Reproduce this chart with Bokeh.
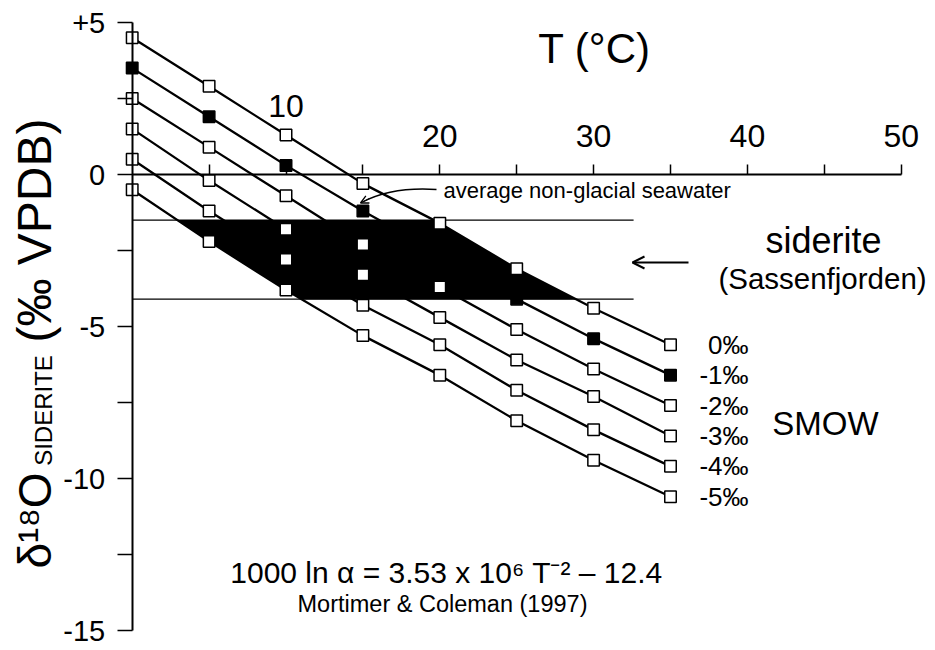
import numpy as np
from bokeh.plotting import figure
from bokeh.models import (Range1d, LinearAxis, FixedTicker, CustomJSTickFormatter,
                          Label, Arrow, OpenHead)
from bokeh.embed import file_html
from bokeh.resources import INLINE

# ---------------- data ----------------
temps = [0, 5, 10, 15, 20, 25, 30, 35]                      # T (deg C)
water_labels = ["0‰", "-1‰", "-2‰", "-3‰", "-4‰", "-5‰"]   # water d18O (SMOW)
sid_w0 = [4.5, 2.9, 1.3, -0.3, -1.6, -3.1, -4.4, -5.6]
sid_w1 = [3.5, 1.9, 0.3, -1.2, -2.6, -4.1, -5.4, -6.6]
sid_w2 = [2.5, 0.9, -0.7, -2.3, -3.7, -5.1, -6.4, -7.6]
sid_w3 = [1.5, -0.2, -1.8, -3.3, -4.7, -6.1, -7.3, -8.6]
sid_w4 = [0.5, -1.2, -2.8, -4.3, -5.6, -7.1, -8.4, -9.6]
sid_w5 = [-0.5, -2.2, -3.8, -5.3, -6.6, -8.1, -9.4, -10.6]
filled_series = [False, True, False, False, False, False]

siderite_top = -1.5          # Sassenfjorden siderite range (per mil VPDB)
siderite_bottom = -4.1
siderite_T_extent = [0, 32.6]

x_ticks = [10, 20, 30, 40, 50]
x_minor_ticks = [5, 15, 25, 35, 45]
y_ticks = [-15, -10, -5, 0, 5]
y_minor_ticks = [-12.5, -7.5, -2.5, 2.5]

series = [sid_w0, sid_w1, sid_w2, sid_w3, sid_w4, sid_w5]

# ---------------- layout ----------------
FONT = "Liberation Sans"
W, H = 935, 650
KX, KY = 15.38, 30.4                 # px per deg C, px per per-mil
X0 = -131.7 / KX
X1 = X0 + W / KX
Y1 = 5 + 22 / KY
Y0 = Y1 - H / KY


def dx(px):
    return X0 + px / KX


def dy(py):
    return Y1 - py / KY


p = figure(width=W, height=H, x_range=Range1d(X0, X1), y_range=Range1d(Y0, Y1),
           toolbar_location=None, output_backend="svg",
           x_axis_location=None, y_axis_location=None, min_border=0)
p.outline_line_color = None
p.grid.visible = False
p.background_fill_color = "white"
p.border_fill_color = "white"

# axes
yaxis = LinearAxis(fixed_location=0, bounds=(-15, 5),
                   ticker=FixedTicker(ticks=y_ticks, minor_ticks=y_minor_ticks),
                   formatter=CustomJSTickFormatter(code="return tick > 0 ? '+' + tick : String(tick);"),
                   major_tick_out=15, major_tick_in=0, minor_tick_out=15, minor_tick_in=0,
                   axis_line_width=2, major_tick_line_width=1.5, minor_tick_line_width=1.5,
                   major_label_text_font=FONT, major_label_text_font_size="29px",
                   major_label_standoff=12, major_label_text_color="black")
p.add_layout(yaxis, "left")

xaxis = LinearAxis(fixed_location=0, bounds=(0, 50),
                   ticker=FixedTicker(ticks=x_ticks, minor_ticks=x_minor_ticks),
                   formatter=CustomJSTickFormatter(code="return tick == 10 ? '' : String(tick);"),
                   major_tick_out=10, major_tick_in=0, minor_tick_out=10, minor_tick_in=0,
                   axis_line_width=2, major_tick_line_width=1.5, minor_tick_line_width=1.5,
                   major_label_text_font=FONT, major_label_text_font_size="32px",
                   major_label_standoff=18, major_label_text_color="black")
p.add_layout(xaxis, "above")


# ---------------- siderite band ----------------
def crossing(ts, vals, level):
    for i in range(len(ts) - 1):
        a, b = vals[i], vals[i + 1]
        if (a - level) * (b - level) <= 0 and a != b:
            return ts[i] + (level - a) / (b - a) * (ts[i + 1] - ts[i])
    return None


left_s, right_s = sid_w5, sid_w0
ta = crossing(temps, left_s, siderite_top)
td = crossing(temps, left_s, siderite_bottom)
tb = crossing(temps, right_s, siderite_top)
tc = crossing(temps, right_s, siderite_bottom)
px_, py_ = [ta, tb], [siderite_top, siderite_top]
for t, v in zip(temps, right_s):
    if tb < t < tc:
        px_.append(t); py_.append(v)
px_ += [tc, td]; py_ += [siderite_bottom, siderite_bottom]
for t, v in reversed(list(zip(temps, left_s))):
    if ta < t < td:
        px_.append(t); py_.append(v)
p.patch(px_, py_, fill_color="black", line_color=None)

p.segment(x0=[siderite_T_extent[0]] * 2, y0=[siderite_top, siderite_bottom],
          x1=[siderite_T_extent[1]] * 2, y1=[siderite_top, siderite_bottom],
          line_color="black", line_width=1.2)

# ---------------- series ----------------
for vals in series:
    p.line(temps, vals, line_color="black", line_width=2.3)
for vals, filled in zip(series, filled_series):
    p.scatter(temps, vals, marker="square", size=11.5,
              fill_color="black" if filled else "white",
              line_color="black", line_width=1.5)


# ---------------- texts ----------------
def label(text, x, y, size, align="left", baseline="middle", angle=0.0):
    p.add_layout(Label(x=x, y=y, text=text, text_font=FONT, text_font_size=f"{size}px",
                       text_align=align, text_baseline=baseline, angle=angle,
                       text_color="black"))


for lab, vals in zip(water_labels, series):
    label(lab, dx(748), vals[-1], 26, align="right")

label("10", x_ticks[0], dy(105), 32, align="center")
label("T (°C)", dx(594), dy(48), 42, align="center")
label("average non-glacial seawater", dx(443), dy(190), 22)
label("siderite", dx(823), dy(240), 36, align="center")
label("(Sassenfjorden)", dx(822), dy(278), 29.5, align="center")
label("SMOW", dx(825), dy(423), 33, align="center")
label("1000 ln α = 3.53 x 10⁶ T⁻² – 12.4", dx(446), dy(572), 30, align="center")
label("Mortimer & Coleman (1997)", dx(442), dy(603), 23.5, align="center")

# rotated y title (reads bottom to top)
label("δ¹⁸O", dx(34), dy(568), 46, align="left", angle=np.pi / 2)
label("SIDERITE", dx(43), dy(410), 24, align="center", angle=np.pi / 2)
label("(‰ VPDB)", dx(34), dy(342), 48, align="left", angle=np.pi / 2)

# arrows
p.add_layout(Arrow(end=OpenHead(size=12, line_width=2, line_color="black"),
                   x_start=dx(688), y_start=dy(262), x_end=dx(632), y_end=dy(262),
                   line_width=2, line_color="black"))
p.quadratic(x0=dx(436), y0=dy(189), x1=dx(362), y1=dy(201.5), cx=dx(392), cy=dy(186),
            line_color="black", line_width=1.3)
p.add_layout(Arrow(end=OpenHead(size=8, line_width=1.3, line_color="black"),
                   x_start=dx(369), y_start=dy(198), x_end=dx(360), y_end=dy(202.5),
                   line_width=1.3, line_color="black"))

open("out.html", "w").write(file_html(p, INLINE))
